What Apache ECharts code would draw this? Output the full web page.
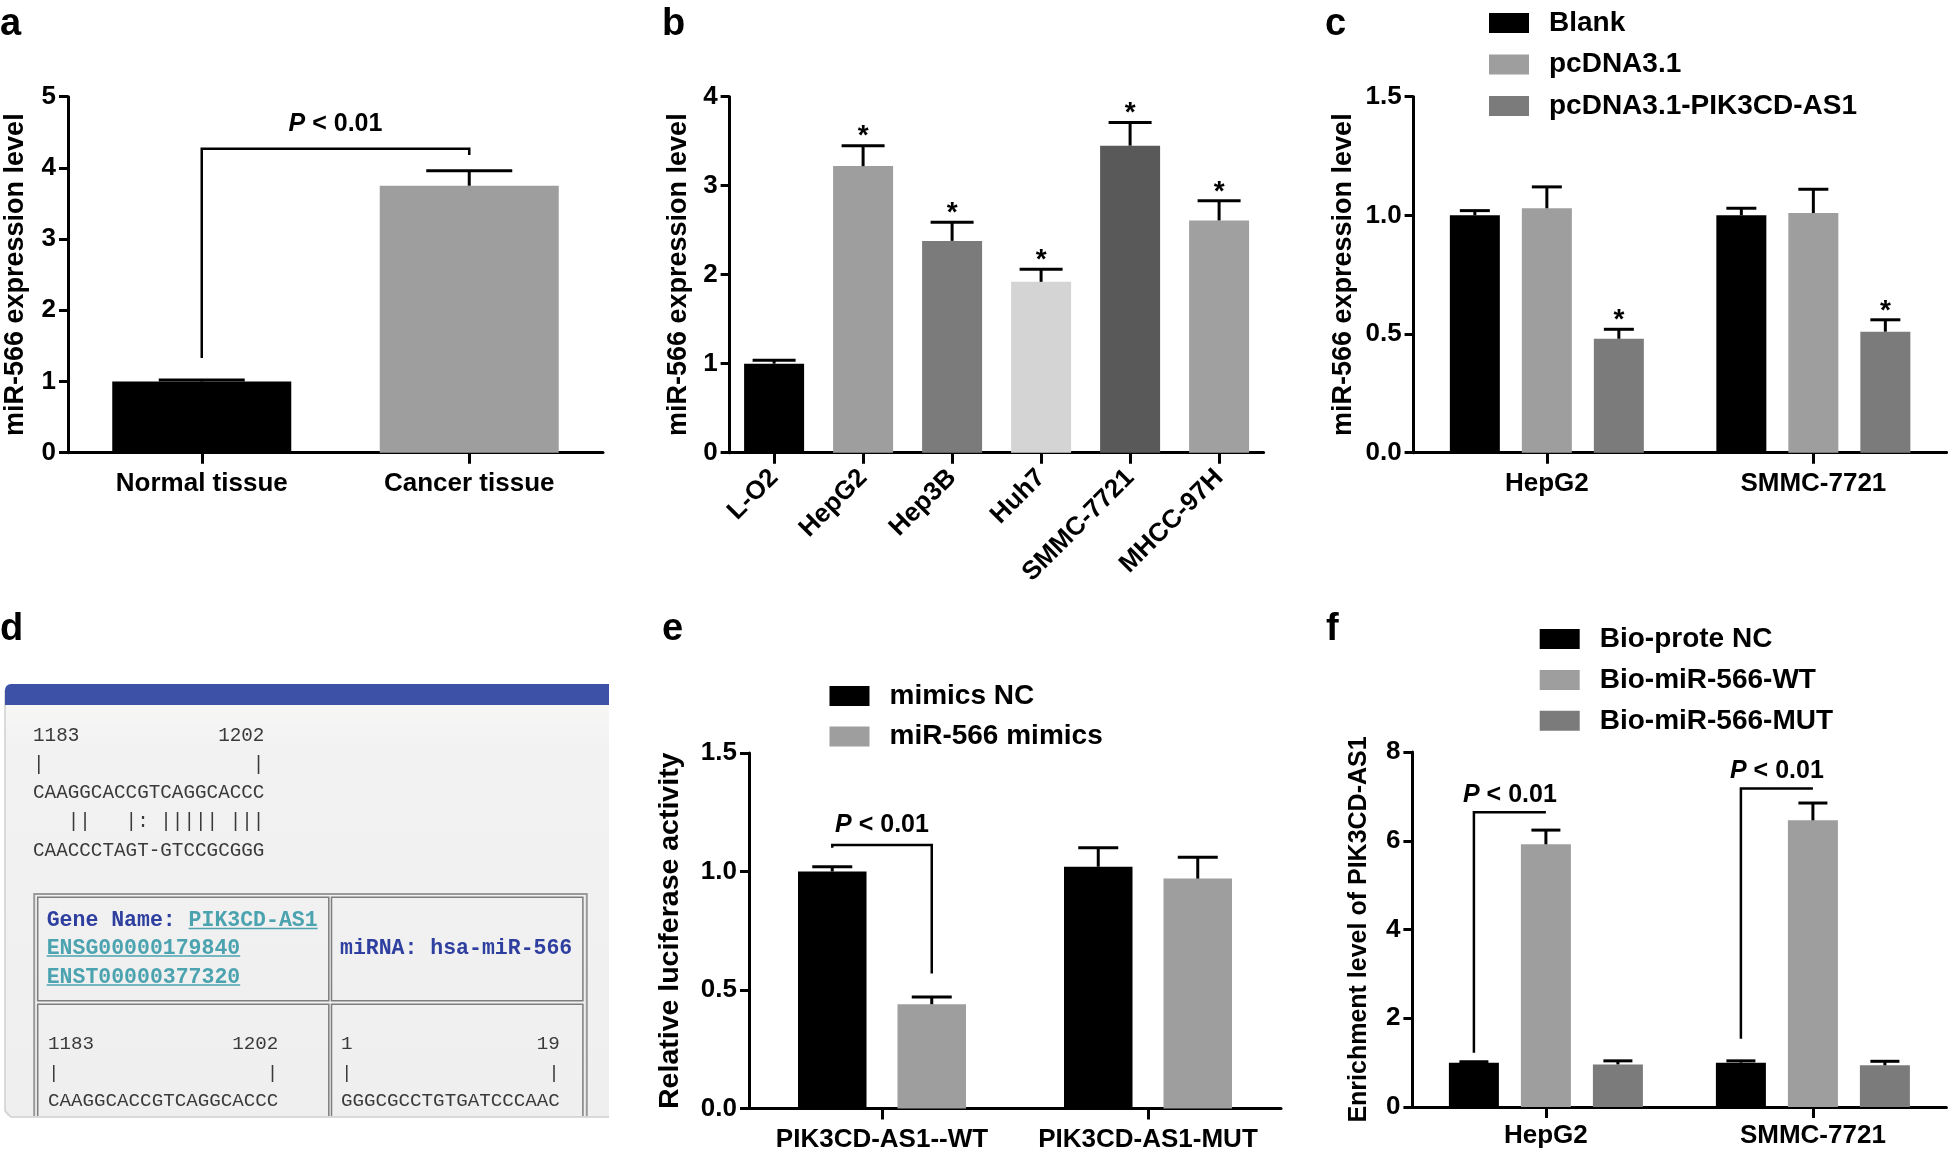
<!DOCTYPE html>
<html><head><meta charset="utf-8">
<script src="https://cdn.jsdelivr.net/npm/echarts@6/dist/echarts.min.js"></script>
<style>html,body{margin:0;padding:0;background:#fff}#c{width:1948px;height:1157px}</style>
</head><body><div id="c"></div>
<script>
// ---------------- DATA ----------------
// Panel a
const aCategories = ['Normal tissue', 'Cancer tissue'];
const aMeans = [1.00, 3.75];
const aErrTop = [1.02, 3.96];
const aYTicks = [0, 1, 2, 3, 4, 5];
const aBracket = [0, 0, 1.33, 4.27, 1, 0, 4.18]; // [catL, barL, yLeftEnd, yTop, catR, barR, yRightEnd]
// Panel b
const bCategories = ['L-O2', 'HepG2', 'Hep3B', 'Huh7', 'SMMC-7721', 'MHCC-97H'];
const bMeans = [1.00, 3.22, 2.38, 1.92, 3.45, 2.61];
const bErrTop = [1.04, 3.45, 2.59, 2.06, 3.71, 2.83];
const bStars = [0, 1, 1, 1, 1, 1];
const bYTicks = [0, 1, 2, 3, 4];
// Panel c
const cCategories = ['HepG2', 'SMMC-7721'];
const cSeriesNames = ['Blank', 'pcDNA3.1', 'pcDNA3.1-PIK3CD-AS1'];
const cBlank = [1.00, 1.00];
const cBlankErr = [1.02, 1.03];
const cPcDNA = [1.03, 1.01];
const cPcDNAErr = [1.12, 1.11];
const cPIK = [0.48, 0.51];
const cPIKErr = [0.52, 0.56];
const cPIKStars = [1, 1];
const cYTicks = [0, 0.5, 1.0, 1.5];
// Panel e
const eCategories = ['PIK3CD-AS1--WT', 'PIK3CD-AS1-MUT'];
const eSeriesNames = ['mimics NC', 'miR-566 mimics'];
const eNC = [1.00, 1.02];
const eNCErr = [1.02, 1.10];
const eMimics = [0.44, 0.97];
const eMimicsErr = [0.47, 1.06];
const eYTicks = [0, 0.5, 1.0, 1.5];
const eBracket = [0, 0, 1.10, 1.112, 0, 1, 0.57];
// Panel f
const fCategories = ['HepG2', 'SMMC-7721'];
const fSeriesNames = ['Bio-prote NC', 'Bio-miR-566-WT', 'Bio-miR-566-MUT'];
const fNC = [1.00, 1.00];
const fNCErr = [1.02, 1.04];
const fWT = [5.92, 6.46];
const fWTErr = [6.24, 6.85];
const fMUT = [0.96, 0.94];
const fMUTErr = [1.04, 1.03];
const fYTicks = [0, 2, 4, 6, 8];
const fBrackets = [[0, 0, 1.22, 6.64, 0, 1, 6.64], [1, 0, 1.54, 7.18, 1, 1, 7.18]];
// Panel d (text of the screenshot)
const seqTop = ['1183            1202', '|                  |', 'CAAGGCACCGTCAGGCACCC', '   ||   |: ||||| |||', 'CAACCCTAGT-GTCCGCGGG'];
const seqCellL = ['1183            1202', '|                  |', 'CAAGGCACCGTCAGGCACCC'];
const seqCellR = ['1                19', '|                 |', 'GGGCGCCTGTGATCCCAAC'];
const geneLabel = 'Gene Name: ';
const geneName = 'PIK3CD-AS1';
const geneIds = ['ENSG00000179840', 'ENST00000377320'];
const mirnaLabel = 'miRNA: hsa-miR-566';
const panelLetters = ['a', 'b', 'c', 'd', 'e', 'f'];
const yNames = ['miR-566 expression level', 'miR-566 expression level', 'miR-566 expression level', 'Relative luciferase activity', 'Enrichment level of PIK3CD-AS1'];

// ---------------- STYLE / LAYOUT ----------------
const FF = '"Liberation Sans", Arial, Helvetica, sans-serif';
const MONO = '"Liberation Mono", "DejaVu Sans Mono", monospace';
const aColors = ['#000000', '#9e9e9e'];
const bColors = ['#000000', '#9e9e9e', '#7b7b7b', '#d4d4d4', '#595959', '#a0a0a0'];
const grp3Colors = ['#000000', '#9e9e9e', '#7b7b7b'];
const grp2Colors = ['#000000', '#9e9e9e'];
const grids = [
  {left: 68, top: 96.7, width: 535, height: 356},
  {left: 729.6, top: 96.7, width: 534, height: 356},
  {left: 1413.6, top: 96.7, width: 533, height: 356},
  {left: 749, top: 753, width: 532, height: 355.5},
  {left: 1412.4, top: 752, width: 534, height: 355}
];
const layA = {n: 1, barW: 179, gap: 0, cap: 86, star: 9};
const layB = {n: 1, barW: 60, gap: 0, cap: 43, star: 9};
const layC = {n: 3, barW: 50, gap: 22, cap: 30, star: 9};
const layE = {n: 2, barW: 68.5, gap: 31, cap: 40, star: 9};
const layF = {n: 3, barW: 50, gap: 22, cap: 29, star: 9};

function yAxis(gi, ticks, dec, nameGap, nameSize) {
  return {
    type: 'value', gridIndex: gi, min: ticks[0], max: ticks[ticks.length - 1], interval: ticks[1] - ticks[0],
    name: yNames[gi], nameLocation: 'middle', nameGap: nameGap, nameRotate: 90,
    nameTextStyle: {fontSize: nameSize, fontWeight: 'bold', color: '#000', fontFamily: FF},
    axisLine: {show: true, onZero: false, lineStyle: {color: '#000', width: 3}},
    axisTick: {show: true, length: 9, lineStyle: {color: '#000', width: 3}},
    axisLabel: {show: true, margin: 12, fontSize: 26, fontWeight: 'bold', color: '#000', fontFamily: FF,
      formatter: v => Number(v).toFixed(dec)},
    splitLine: {show: false}
  };
}
function xAxis(gi, data, rotate, margin) {
  return {
    type: 'category', gridIndex: gi, data: data,
    axisLine: {show: true, lineStyle: {color: '#000', width: 3}},
    axisTick: {show: true, alignWithLabel: true, length: 11, lineStyle: {color: '#000', width: 3}},
    axisLabel: {interval: 0, rotate: rotate, margin: margin, fontSize: 26, fontWeight: 'bold', color: '#000', fontFamily: FF},
    splitLine: {show: false}
  };
}
function barSeries(name, gi, values, colors, lay) {
  const data = values.map((v, i) => ({value: v, itemStyle: {color: Array.isArray(colors) ? colors[i] : colors}}));
  return {type: 'bar', name: name, xAxisIndex: gi, yAxisIndex: gi, data: data, barWidth: lay.barW,
    barGap: (lay.gap / lay.barW * 100) + '%', itemStyle: {color: Array.isArray(colors) ? colors[0] : colors},
    silent: true, z: 2};
}
function offsetOf(lay, k) {
  const total = lay.n * lay.barW + (lay.n - 1) * lay.gap;
  return -total / 2 + lay.barW / 2 + k * (lay.barW + lay.gap);
}
function errSeries(gi, means, tops, stars, lay, idx) {
  const data = means.map((m, i) => [i, m, tops[i], stars ? stars[i] : 0]);
  return {
    type: 'custom', xAxisIndex: gi, yAxisIndex: gi, data: data, encode: {x: 0, y: [1, 2]}, z: 5, silent: true,
    renderItem: function (params, api) {
      const i = api.value(0), m = api.value(1), t = api.value(2), s = api.value(3);
      const p0 = api.coord([i, m]), p1 = api.coord([i, t]);
      const x = p0[0] + offsetOf(lay, idx);
      const ch = [
        {type: 'line', shape: {x1: x, y1: p0[1], x2: x, y2: p1[1]}, style: {stroke: '#000', lineWidth: 3}},
        {type: 'line', shape: {x1: x - lay.cap / 2, y1: p1[1], x2: x + lay.cap / 2, y2: p1[1]}, style: {stroke: '#000', lineWidth: 3}}
      ];
      if (s) ch.push({type: 'text', style: {text: '*', x: x, y: p1[1] - lay.star, align: 'center', verticalAlign: 'middle',
        font: 'bold 28px ' + FF, fill: '#000'}});
      return {type: 'group', children: ch};
    }
  };
}
function bracketSeries(gi, brackets, lay, labelGap) {
  return {
    type: 'custom', xAxisIndex: gi, yAxisIndex: gi, data: brackets, encode: {x: 0, y: 3}, z: 6, silent: true,
    renderItem: function (params, api) {
      const cl = api.value(0), bl = api.value(1), yl = api.value(2), yt = api.value(3),
        cr = api.value(4), br = api.value(5), yr = api.value(6);
      const L0 = api.coord([cl, yl]), LT = api.coord([cl, yt]), R0 = api.coord([cr, yr]), RT = api.coord([cr, yt]);
      const xl = L0[0] + offsetOf(lay, bl), xr = R0[0] + offsetOf(lay, br);
      return {type: 'group', children: [
        {type: 'polyline', shape: {points: [[xl, L0[1]], [xl, LT[1]], [xr, RT[1]], [xr, R0[1]]]},
          style: {stroke: '#000', lineWidth: 2.5, fill: 'none'}},
        {type: 'text', style: {text: '{p|P}{t| < 0.01}', x: (xl + xr) / 2, y: LT[1] - labelGap,
          align: 'center', verticalAlign: 'middle', fill: '#000',
          rich: {p: {fontStyle: 'italic', fontWeight: 'bold', fontSize: 25, fontFamily: FF, fill: '#000'},
                 t: {fontWeight: 'bold', fontSize: 25, fontFamily: FF, fill: '#000'}}}}
      ]};
    }
  };
}
function legend(names, left, top, gap) {
  return {data: names, left: left, top: top, orient: 'vertical', icon: 'rect', itemWidth: 40, itemHeight: 20,
    itemGap: gap, selectedMode: false, padding: 0,
    textStyle: {fontSize: 28, fontWeight: 'bold', color: '#000', fontFamily: FF, lineHeight: 28, padding: [0, 0, 0, 15]}};
}

// ---------------- PANEL d GRAPHICS ----------------
const dEls = [];
dEls.push({type: 'rect', shape: {x: 5, y: 684, width: 604, height: 433, r: [6, 0, 0, 6]},
  style: {fill: {type: 'linear', x: 0, y: 0, x2: 0, y2: 1, colorStops: [
    {offset: 0, color: '#f9f9f8'}, {offset: 0.15, color: '#f2f2f2'}, {offset: 1, color: '#efefef'}]}}});
dEls.push({type: 'polyline', shape: {points: [[5, 690], [5, 1111], [11, 1117], [609, 1117]]},
  style: {stroke: '#cfcfcf', lineWidth: 1.5, fill: 'none'}});
dEls.push({type: 'rect', shape: {x: 5, y: 684, width: 604, height: 21, r: [6, 0, 0, 0]}, style: {fill: '#3d51a6'}});
const seqFont = '19.3px ' + MONO;
seqTop.forEach((s, k) => dEls.push({type: 'text', style: {text: s, x: 33, y: 736 + k * 28.6, font: seqFont, fill: '#3a3a3a', align: 'left', verticalAlign: 'middle'}}));
// table
dEls.push({type: 'polyline', shape: {points: [[34.2, 1116], [34.2, 894], [586.8, 894], [586.8, 1116]]}, style: {stroke: '#9a9a9a', lineWidth: 2, fill: 'none'}});
dEls.push({type: 'rect', shape: {x: 37.7, y: 897.3, width: 291.1, height: 103.4}, style: {stroke: '#7d7d7d', lineWidth: 1.5, fill: 'none'}});
dEls.push({type: 'rect', shape: {x: 331.5, y: 897.3, width: 251.4, height: 103.4}, style: {stroke: '#7d7d7d', lineWidth: 1.5, fill: 'none'}});
dEls.push({type: 'polyline', shape: {points: [[37.7, 1116], [37.7, 1004.3], [328.8, 1004.3], [328.8, 1116]]}, style: {stroke: '#7d7d7d', lineWidth: 1.5, fill: 'none'}});
dEls.push({type: 'polyline', shape: {points: [[331.5, 1116], [331.5, 1004.3], [582.9, 1004.3], [582.9, 1116]]}, style: {stroke: '#7d7d7d', lineWidth: 1.5, fill: 'none'}});
const boldFont = 'bold 21.5px ' + MONO;
const pitchB = 21.5 * 0.6;
const BLUE = '#2f3fa0', TEAL = '#4ba3b0';
dEls.push({type: 'text', style: {text: geneLabel, x: 46.7, y: 920.7, font: boldFont, fill: BLUE, align: 'left', verticalAlign: 'middle'}});
const gx = 46.7 + geneLabel.length * pitchB;
dEls.push({type: 'text', style: {text: geneName, x: gx, y: 920.7, font: boldFont, fill: TEAL, align: 'left', verticalAlign: 'middle'}});
dEls.push({type: 'line', shape: {x1: gx, y1: 928.5, x2: gx + geneName.length * pitchB, y2: 928.5}, style: {stroke: TEAL, lineWidth: 1.5}});
geneIds.forEach((s, k) => {
  const y = 948.3 + k * 28.8;
  dEls.push({type: 'text', style: {text: s, x: 46.7, y: y, font: boldFont, fill: TEAL, align: 'left', verticalAlign: 'middle'}});
  dEls.push({type: 'line', shape: {x1: 46.7, y1: y + 7.8, x2: 46.7 + s.length * pitchB, y2: y + 7.8}, style: {stroke: TEAL, lineWidth: 1.5}});
});
dEls.push({type: 'text', style: {text: mirnaLabel, x: 340, y: 949, font: boldFont, fill: BLUE, align: 'left', verticalAlign: 'middle'}});
const cellFont = '19.2px ' + MONO;
seqCellL.forEach((s, k) => dEls.push({type: 'text', style: {text: s, x: 48, y: 1044 + k * 28.5, font: cellFont, fill: '#3a3a3a', align: 'left', verticalAlign: 'middle'}}));
seqCellR.forEach((s, k) => dEls.push({type: 'text', style: {text: s, x: 341, y: 1044 + k * 28.5, font: cellFont, fill: '#3a3a3a', align: 'left', verticalAlign: 'middle'}}));
// panel letters
const letterPos = [[0, 25], [662, 25], [1325, 25], [0, 630], [662, 630], [1326, 630]];
panelLetters.forEach((l, k) => dEls.push({type: 'text', style: {text: l, x: letterPos[k][0], y: letterPos[k][1],
  font: 'bold 38px ' + FF, fill: '#000', align: 'left', verticalAlign: 'middle'}}));

// ---------------- OPTION ----------------
const option = {
  animation: false,
  backgroundColor: '#ffffff',
  grid: grids.map(g => Object.assign({outerBoundsMode: 'none', containLabel: false}, g)),
  xAxis: [xAxis(0, aCategories, 0, 18.5), xAxis(1, bCategories, 45, 21), xAxis(2, cCategories, 0, 18.5),
          xAxis(3, eCategories, 0, 18), xAxis(4, fCategories, 0, 15.5)],
  yAxis: [yAxis(0, aYTicks, 0, 39, 27), yAxis(1, bYTicks, 0, 38, 27), yAxis(2, cYTicks, 1, 57, 27),
          yAxis(3, eYTicks, 1, 64, 28.5), yAxis(4, fYTicks, 0, 41, 25)],
  legend: [legend(cSeriesNames, 1489, 9, 13.5), legend(eSeriesNames, 829.5, 682, 12.6), legend(fSeriesNames, 1539.7, 625, 12.9)],
  graphic: {elements: dEls},
  series: [
    barSeries('a', 0, aMeans, aColors, layA),
    errSeries(0, aMeans, aErrTop, null, layA, 0),
    bracketSeries(0, [aBracket], layA, 25),

    barSeries('b', 1, bMeans, bColors, layB),
    errSeries(1, bMeans, bErrTop, bStars, layB, 0),

    barSeries(cSeriesNames[0], 2, cBlank, grp3Colors[0], layC),
    barSeries(cSeriesNames[1], 2, cPcDNA, grp3Colors[1], layC),
    barSeries(cSeriesNames[2], 2, cPIK, grp3Colors[2], layC),
    errSeries(2, cBlank, cBlankErr, null, layC, 0),
    errSeries(2, cPcDNA, cPcDNAErr, null, layC, 1),
    errSeries(2, cPIK, cPIKErr, cPIKStars, layC, 2),

    barSeries(eSeriesNames[0], 3, eNC, grp2Colors[0], layE),
    barSeries(eSeriesNames[1], 3, eMimics, grp2Colors[1], layE),
    errSeries(3, eNC, eNCErr, null, layE, 0),
    errSeries(3, eMimics, eMimicsErr, null, layE, 1),
    bracketSeries(3, [eBracket], layE, 20),

    barSeries(fSeriesNames[0], 4, fNC, grp3Colors[0], layF),
    barSeries(fSeriesNames[1], 4, fWT, grp3Colors[1], layF),
    barSeries(fSeriesNames[2], 4, fMUT, grp3Colors[2], layF),
    errSeries(4, fNC, fNCErr, null, layF, 0),
    errSeries(4, fWT, fWTErr, null, layF, 1),
    errSeries(4, fMUT, fMUTErr, null, layF, 2),
    bracketSeries(4, fBrackets, layF, 17)
  ]
};
const chart = echarts.init(document.getElementById('c'), null, {renderer: 'canvas', width: 1948, height: 1157});
chart.setOption(option);
</script></body></html>
